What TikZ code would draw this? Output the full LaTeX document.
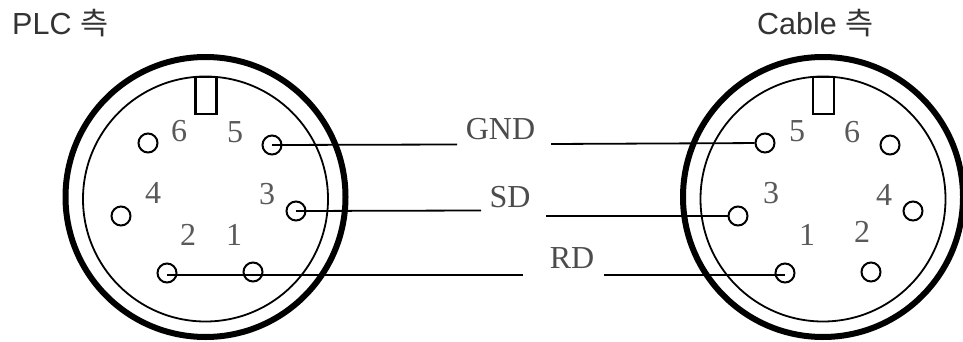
\documentclass[tikz,border=0pt]{standalone}
\usepackage{fontspec}
\setmainfont{Liberation Serif}
\newfontfamily\headfont{Liberation Sans}
\newfontfamily\kofont{Noto Sans CJK KR}
\usepackage{tikz}
\tikzset{
	shell/.style={draw, circle, line width=6pt, minimum size=280pt, inner sep=0pt},
	bore/.style={draw, circle, line width=1.8pt, minimum size=245pt, inner sep=0pt},
	notch/.style={draw, fill=white, line width=2.2pt, minimum width=21pt, minimum height=37pt, inner sep=0pt},
	pin/.style={draw, circle, line width=2pt, minimum size=19pt, inner sep=0pt},
	wire/.style={line width=1.8pt},
	num/.style={text=black!65, font=\fontsize{32}{32}\selectfont, inner sep=0pt},
	sig/.style={text=black!70, font=\fontsize{32}{32}\selectfont, inner sep=0pt},
	head/.style={text=black!80, font=\fontsize{30.5}{30.5}\selectfont, inner sep=0pt}
}

\begin{document}
\begin{tikzpicture}[x=1pt, y=-1pt]
			\useasboundingbox (0, 0) rectangle (963, 342);
			%%%%% PLC side %%%%%
			\node[head, anchor=west] (plchead) at (12, 23) {\headfont PLC \kofont 측};
			\node[shell] (plcshell) at (205.5, 197) {};
			\node[bore] (plcbore) at (205.5, 199) {};
			\node[notch] (plcnotch) at (206, 95.5) {};
			
			\node[pin] (plc6) at (148, 143) {};
			\node[pin] (plc5) at (272, 145) {};
			\node[pin] (plc4) at (121, 216) {};
			\node[pin] (plc3) at (296, 211) {};
			\node[pin] (plc2) at (167, 273) {};
			\node[pin] (plc1) at (253, 272) {};
			
			\node[num] (plcnum6) at (179, 131) {6};
			\node[num] (plcnum5) at (235, 132) {5};
			\node[num] (plcnum4) at (153, 193) {4};
			\node[num] (plcnum3) at (267, 194) {3};
			\node[num] (plcnum2) at (188, 235) {2};
			\node[num] (plcnum1) at (234, 235) {1};
			
			%%%%% Cable side %%%%%
			\node[head, anchor=west] (cablehead) at (757, 23) {\headfont Cable \kofont 측};
			\node[shell] (cableshell) at (823, 197) {};
			\node[bore] (cablebore) at (823, 199) {};
			\node[notch] (cablenotch) at (823.5, 95.5) {};
			
			\node[pin] (cable5) at (765, 143) {};
			\node[pin] (cable6) at (890, 145) {};
			\node[pin] (cable3) at (738, 216) {};
			\node[pin] (cable4) at (913, 211) {};
			\node[pin] (cable1) at (785, 273) {};
			\node[pin] (cable2) at (871, 272) {};
			
			\node[num] (cablenum5) at (797, 131) {5};
			\node[num] (cablenum6) at (852, 132) {6};
			\node[num] (cablenum3) at (771, 193) {3};
			\node[num] (cablenum4) at (884, 195) {4};
			\node[num] (cablenum1) at (807, 235) {1};
			\node[num] (cablenum2) at (862, 232) {2};
			
			%%%%% Signals %%%%%
			\node[sig] (gnd) at (500.5, 129) {GND};
			\node[sig] (sd) at (510, 197) {SD};
			\node[sig] (rd) at (572, 258) {RD};
			
			\coordinate (gndl) at (457, 144.5);
			\coordinate (gndr) at (551, 144);
			\coordinate (sdl) at (481, 210.5);
			\coordinate (sdr) at (546, 216);
			\coordinate (rdl) at (523, 275);
			\coordinate (rdr) at (604, 275);
			
			\draw[wire] (plc5.center) -- (gndl);
			\draw[wire] (gndr) -- (cable5);
			\draw[wire] (plc3.center) -- (sdl);
			\draw[wire] (sdr) -- (cable3);
			\draw[wire] (plc2.center |- rdl) -- (rdl);
			\draw[wire] (rdr) -- (cable1.center |- rdr);
		\end{tikzpicture}
\end{document}
